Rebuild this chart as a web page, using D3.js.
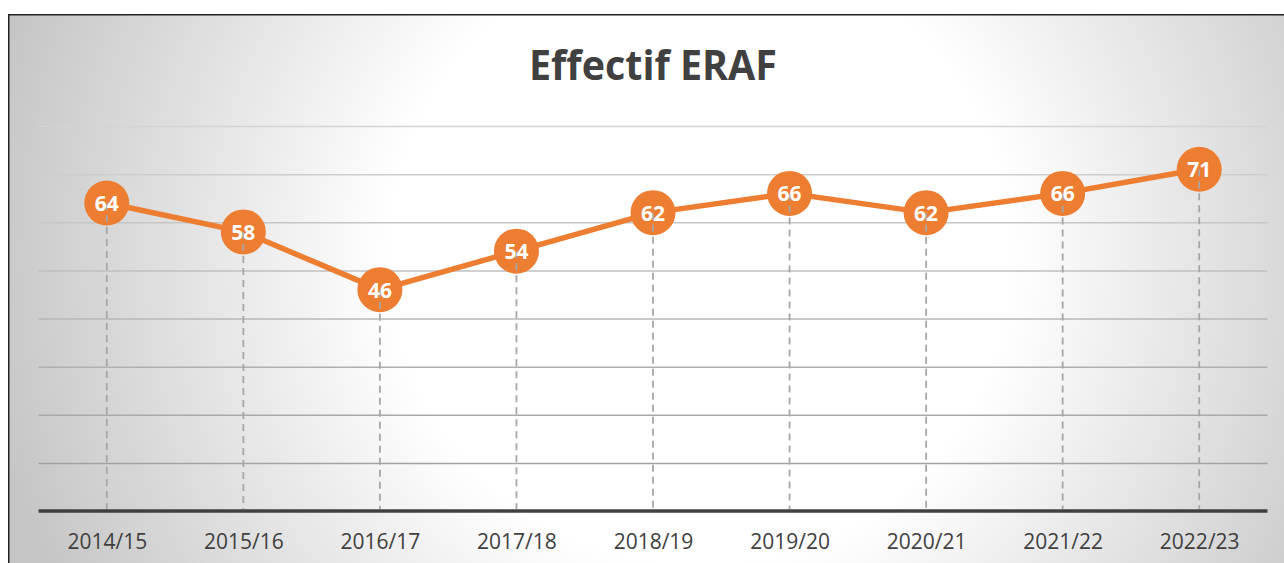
<!DOCTYPE html>
<html>
<head>
<meta charset="utf-8">
<script src="https://cdn.jsdelivr.net/npm/d3@7"></script>
<style>
  body { margin: 0; background: #fff; }
  svg { display: block; }
</style>
</head>
<body>
<svg id="chart"></svg>
<script>
const years = ["2014/15", "2015/16", "2016/17", "2017/18", "2018/19", "2019/20", "2020/21", "2021/22", "2022/23"];
const effectif = [64, 58, 46, 54, 62, 66, 62, 66, 71];
const yTicks = [10, 20, 30, 40, 50, 60, 70, 80];
const chartTitle = "Effectif ERAF";

class LineChart {
  constructor(_config) {
    this.config = {
      parentElement: _config.parentElement,
      containerWidth: _config.containerWidth || 1284,
      containerHeight: _config.containerHeight || 563,
      plotLeft: 38.5,
      plotRight: 1267.5,
      plotTop: 126,
      plotBottom: 511,
      orange: "#ed7d31",
      textColor: "#404040",
    };
    this.initVis();
  }

  initVis() {
    let vis = this;
    const c = vis.config;

    vis.svg = d3
      .select(c.parentElement)
      .attr("width", c.containerWidth)
      .attr("height", c.containerHeight);

    const defs = vis.svg.append("defs");

    // background, white in the middle, grey towards the corners
    const bg = defs
      .append("radialGradient")
      .attr("id", "bg-gradient")
      .attr("gradientUnits", "userSpaceOnUse")
      .attr("cx", 700)
      .attr("cy", 255)
      .attr("r", 720);
    bg.append("stop").attr("offset", "0%").attr("stop-color", "#ffffff");
    bg.append("stop").attr("offset", "43%").attr("stop-color", "#ffffff");
    bg.append("stop").attr("offset", "100%").attr("stop-color", "#c6c6c6");

    vis.svg
      .append("rect")
      .attr("x", 8.75)
      .attr("y", 14.75)
      .attr("width", 1300)
      .attr("height", 600)
      .attr("fill", "url(#bg-gradient)")
      .attr("stroke", "#222")
      .attr("stroke-width", 1.5);

    vis.xScale = d3
      .scalePoint()
      .domain(years)
      .range([c.plotLeft, c.plotRight])
      .padding(0.5);

    vis.yScale = d3
      .scaleLinear()
      .domain([0, 80])
      .range([c.plotBottom, c.plotTop]);

    // gridlines get darker towards the bottom
    vis.gridColor = d3
      .scaleLinear()
      .domain([80, 10])
      .range(["#d4d4d4", "#a2a2a2"]);

    vis.title = vis.svg
      .append("text")
      .attr("x", 653)
      .attr("y", 80)
      .attr("text-anchor", "middle")
      .attr("textLength", 248)
      .attr("lengthAdjust", "spacingAndGlyphs")
      .style("font-family", "'Open Sans', sans-serif")
      .style("font-size", "41px")
      .style("font-weight", "bold")
      .style("fill", c.textColor)
      .text(chartTitle);

    vis.updateVis();
  }

  updateVis() {
    let vis = this;
    const c = vis.config;

    // horizontal gridlines
    vis.svg
      .append("g")
      .attr("class", "grid")
      .attr("transform", `translate(${c.plotLeft},0)`)
      .call(
        d3.axisLeft(vis.yScale)
          .tickValues(yTicks)
          .tickSize(-(c.plotRight - c.plotLeft))
          .tickFormat("")
      )
      .call((g) => g.select(".domain").remove())
      .call((g) =>
        g.selectAll(".tick line")
          .attr("stroke", (d) => vis.gridColor(d))
          .attr("stroke-width", 1.5)
      );

    // x axis: thick baseline and category labels
    vis.svg
      .append("g")
      .attr("class", "x-axis")
      .attr("transform", `translate(0,${c.plotBottom})`)
      .call(d3.axisBottom(vis.xScale).tickSize(0).tickPadding(38))
      .call((g) =>
        g.select(".domain")
          .attr("d", `M${c.plotLeft},0H${c.plotRight}`)
          .attr("stroke", c.textColor)
          .attr("stroke-width", 3.5)
      )
      .call((g) =>
        g.selectAll(".tick text")
          .attr("dy", "0")
          .style("font-family", "'Open Sans', sans-serif")
          .style("font-size", "21px")
          .style("fill", c.textColor)
      );

    const points = years.map((d, i) => ({ year: d, value: effectif[i] }));

    const line = d3
      .line()
      .x((d) => vis.xScale(d.year))
      .y((d) => vis.yScale(d.value));

    vis.svg
      .append("path")
      .datum(points)
      .attr("d", line)
      .attr("fill", "none")
      .attr("stroke", c.orange)
      .attr("stroke-width", 5.5)
      .attr("stroke-linejoin", "round");

    vis.svg
      .selectAll(".marker")
      .data(points)
      .join("circle")
      .attr("class", "marker")
      .attr("cx", (d) => vis.xScale(d.year))
      .attr("cy", (d) => vis.yScale(d.value))
      .attr("r", 22.5)
      .attr("fill", c.orange);

    // drop lines from each point to the axis
    vis.svg
      .selectAll(".drop-line")
      .data(points)
      .join("line")
      .attr("class", "drop-line")
      .attr("x1", (d) => vis.xScale(d.year))
      .attr("x2", (d) => vis.xScale(d.year))
      .attr("y1", (d) => vis.yScale(d.value))
      .attr("y2", c.plotBottom - 2)
      .attr("stroke", "#a6a6a6")
      .attr("stroke-width", 1.8)
      .attr("stroke-dasharray", "7,5");

    vis.svg
      .selectAll(".data-label")
      .data(points)
      .join("text")
      .attr("class", "data-label")
      .attr("x", (d) => vis.xScale(d.year))
      .attr("y", (d) => vis.yScale(d.value) + 8)
      .attr("text-anchor", "middle")
      .style("font-family", "'Open Sans', sans-serif")
      .style("font-size", "21px")
      .style("font-weight", "bold")
      .style("fill", "#fff")
      .text((d) => d.value);
  }
}

new LineChart({ parentElement: "#chart" });
</script>
</body>
</html>
